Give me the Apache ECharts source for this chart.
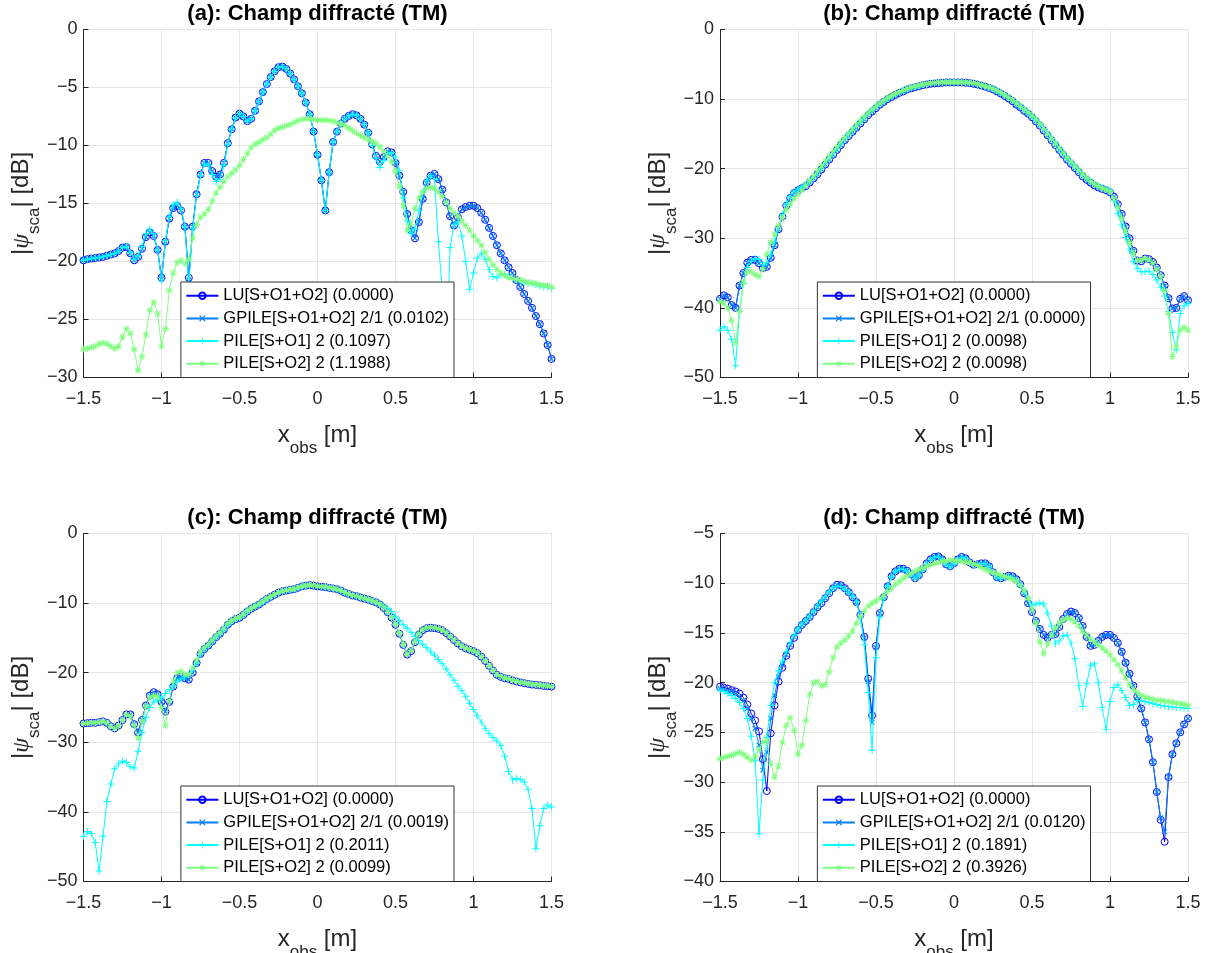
<!DOCTYPE html>
<html>
<head>
<meta charset="utf-8">
<script src="https://cdn.jsdelivr.net/npm/echarts@6/dist/echarts.min.js"></script>
<style>html,body{margin:0;padding:0;background:#fff}#c{width:1213px;height:953px}</style>
</head>
<body>
<div id="c"></div>
<script>
// ---------------- DATA ----------------
const xs = [-1.5,-1.475,-1.45,-1.425,-1.4,-1.375,-1.35,-1.325,-1.3,-1.275,
-1.25,-1.225,-1.2,-1.175,-1.15,-1.125,-1.1,-1.075,-1.05,-1.025,
-1,-0.975,-0.95,-0.925,-0.9,-0.875,-0.85,-0.825,-0.8,-0.775,
-0.75,-0.725,-0.7,-0.675,-0.65,-0.625,-0.6,-0.575,-0.55,-0.525,
-0.5,-0.475,-0.45,-0.425,-0.4,-0.375,-0.35,-0.325,-0.3,-0.275,
-0.25,-0.225,-0.2,-0.175,-0.15,-0.125,-0.1,-0.075,-0.05,-0.025,
0,0.025,0.05,0.075,0.1,0.125,0.15,0.175,0.2,0.225,
0.25,0.275,0.3,0.325,0.35,0.375,0.4,0.425,0.45,0.475,
0.5,0.525,0.55,0.575,0.6,0.625,0.65,0.675,0.7,0.725,
0.75,0.775,0.8,0.825,0.85,0.875,0.9,0.925,0.95,0.975,
1,1.025,1.05,1.075,1.1,1.125,1.15,1.175,1.2,1.225,
1.25,1.275,1.3,1.325,1.35,1.375,1.4,1.425,1.45,1.475,
1.5];

const xTicks = [-1.5, 1.5, 0.5];          // min, max, step
const yTicksA = [-30, 0, 5];
const yTicksB = [-50, 0, 10];
const yTicksC = [-50, 0, 10];
const yTicksD = [-40, -5, 5];

const titles = ['(a): Champ diffracté (TM)','(b): Champ diffracté (TM)','(c): Champ diffracté (TM)','(d): Champ diffracté (TM)'];

const namesA = ['LU[S+O1+O2] (0.0000)','GPILE[S+O1+O2] 2/1 (0.0102)','PILE[S+O1] 2 (0.1097)','PILE[S+O2] 2 (1.1988)'];
const namesB = ['LU[S+O1+O2] (0.0000)','GPILE[S+O1+O2] 2/1 (0.0000)','PILE[S+O1] 2 (0.0098)','PILE[S+O2] 2 (0.0098)'];
const namesC = ['LU[S+O1+O2] (0.0000)','GPILE[S+O1+O2] 2/1 (0.0019)','PILE[S+O1] 2 (0.2011)','PILE[S+O2] 2 (0.0099)'];
const namesD = ['LU[S+O1+O2] (0.0000)','GPILE[S+O1+O2] 2/1 (0.0120)','PILE[S+O1] 2 (0.1891)','PILE[S+O2] 2 (0.3926)'];

// (a)
const luA = [-19.9,-19.8,-19.75,-19.7,-19.65,-19.6,-19.5,-19.4,-19.3,-19.1,
-18.8,-18.75,-19.3,-19.9,-19.6,-18.9,-17.9,-17.5,-17.8,-19.0,
-21.4,-18.3,-16.3,-15.4,-15.2,-15.6,-17.0,-21.4,-17.0,-14.2,
-12.5,-11.5,-11.5,-12.2,-12.7,-12.5,-11.5,-9.8,-8.6,-7.6,
-7.25,-7.5,-7.9,-7.7,-7.0,-6.2,-5.4,-4.7,-4.1,-3.6,
-3.25,-3.2,-3.4,-3.8,-4.3,-4.9,-5.5,-6.3,-7.3,-8.8,
-10.8,-13.0,-15.6,-12.3,-9.7,-8.8,-8.1,-7.7,-7.45,-7.3,
-7.4,-7.7,-8.2,-8.9,-9.9,-10.9,-11.4,-11.0,-10.5,-10.6,
-11.5,-12.6,-14.0,-15.9,-17.3,-18.0,-16.6,-14.6,-13.2,-12.6,
-12.45,-12.9,-13.8,-14.9,-16.1,-16.9,-16.2,-15.5,-15.3,-15.2,
-15.2,-15.4,-15.8,-16.4,-17.1,-17.8,-18.6,-19.3,-19.9,-20.5,
-21.0,-21.6,-22.2,-22.8,-23.4,-24.0,-24.7,-25.4,-26.2,-27.2,
-28.4];
const gpileA = [-19.9,-19.8,-19.75,-19.7,-19.65,-19.6,-19.5,-19.4,-19.3,-19.1,
-18.8,-18.75,-19.3,-19.9,-19.6,-18.9,-17.9,-17.5,-17.8,-19.0,
-21.5,-18.3,-16.3,-15.4,-15.2,-15.6,-17.0,-21.6,-17.0,-14.2,
-12.5,-11.5,-11.5,-12.2,-12.7,-12.5,-11.5,-9.8,-8.6,-7.6,
-7.25,-7.5,-7.9,-7.7,-7.0,-6.2,-5.4,-4.7,-4.1,-3.6,
-3.25,-3.2,-3.4,-3.8,-4.3,-4.9,-5.5,-6.3,-7.3,-8.8,
-10.8,-13.0,-15.6,-12.3,-9.7,-8.8,-8.1,-7.7,-7.45,-7.3,
-7.4,-7.7,-8.2,-8.9,-9.9,-10.9,-11.4,-11.0,-10.5,-10.6,
-11.5,-12.6,-14.0,-15.9,-17.3,-18.0,-16.6,-14.6,-13.2,-12.6,
-12.45,-12.9,-13.8,-14.9,-16.1,-16.9,-16.2,-15.5,-15.3,-15.2,
-15.2,-15.4,-15.8,-16.4,-17.1,-17.8,-18.6,-19.3,-19.9,-20.5,
-21.0,-21.6,-22.2,-22.8,-23.4,-24.0,-24.7,-25.4,-26.2,-27.2,
-28.4];
const pile1A = [-19.9,-19.8,-19.75,-19.7,-19.65,-19.6,-19.5,-19.4,-19.3,-19.1,
-18.8,-18.7,-19.2,-19.8,-19.5,-18.7,-17.6,-17.2,-17.6,-19.0,
-21.6,-18.2,-16.1,-15.1,-14.9,-15.4,-17.0,-22.0,-17.2,-14.3,
-12.6,-11.6,-11.7,-12.5,-13.1,-12.9,-11.7,-9.9,-8.6,-7.6,
-7.25,-7.5,-7.9,-7.7,-7.0,-6.2,-5.4,-4.7,-4.1,-3.6,
-3.25,-3.2,-3.4,-3.8,-4.3,-4.9,-5.5,-6.3,-7.3,-8.8,
-10.8,-13.0,-15.6,-12.3,-9.7,-8.8,-8.1,-7.7,-7.45,-7.3,
-7.4,-7.7,-8.2,-8.9,-10.0,-11.1,-11.9,-11.3,-10.7,-10.6,
-11.0,-12.2,-14.5,-16.5,-17.6,-17.2,-15.6,-14.0,-13.0,-12.6,
-12.9,-18.3,-22.5,-28.0,-18.8,-16.8,-16.6,-17.8,-20.0,-22.4,
-21.0,-19.7,-19.3,-19.8,-20.7,-21.3,-21.4,-21.1,-21.1,-21.3,
-21.5,-21.6,-21.7,-21.8,-21.9,-21.9,-22.0,-22.1,-22.2,-22.2,
-22.3];
const pile2A = [-27.55,-27.5,-27.4,-27.3,-27.1,-27.0,-27.1,-27.3,-27.5,-27.3,
-26.5,-25.8,-26.2,-27.6,-29.4,-28.2,-26.3,-24.2,-23.5,-24.5,
-27.3,-25.8,-22.5,-21.0,-20.1,-19.9,-20.2,-19.8,-18.0,-16.8,
-16.2,-15.9,-15.5,-14.8,-14.1,-13.6,-13.1,-12.7,-12.4,-12.1,
-11.7,-11.2,-10.7,-10.2,-9.9,-9.7,-9.5,-9.3,-9.0,-8.7,
-8.5,-8.4,-8.3,-8.2,-8.0,-7.85,-7.75,-7.7,-7.7,-7.75,
-7.8,-7.8,-7.8,-7.85,-7.9,-8.0,-8.15,-8.3,-8.5,-8.7,
-8.95,-9.15,-9.3,-9.5,-9.65,-9.8,-10.1,-10.5,-10.9,-11.4,
-12.2,-13.5,-15.2,-17.3,-16.8,-15.4,-14.5,-14.0,-13.7,-13.6,
-13.7,-14.0,-14.4,-14.9,-15.4,-15.8,-16.1,-16.5,-16.9,-17.3,
-17.8,-18.2,-18.6,-19.2,-19.8,-20.3,-20.7,-21.0,-21.2,-21.35,
-21.45,-21.55,-21.6,-21.7,-21.8,-21.85,-21.9,-22.0,-22.05,-22.1,
-22.2];

// (b)
const luB = [-38.7,-38.2,-38.5,-39.6,-40.0,-36.8,-35.0,-33.5,-33.1,-33.1,
-33.6,-34.3,-34.1,-32.8,-31.0,-28.7,-26.9,-25.3,-24.2,-23.5,
-23.1,-22.8,-22.5,-22.0,-21.4,-20.8,-20.1,-19.4,-18.7,-18.0,
-17.3,-16.6,-15.9,-15.3,-14.7,-14.1,-13.5,-12.9,-12.3,-11.8,
-11.3,-10.8,-10.4,-10.0,-9.7,-9.4,-9.1,-8.9,-8.6,-8.45,
-8.3,-8.15,-8.0,-7.9,-7.8,-7.75,-7.7,-7.65,-7.6,-7.6,
-7.6,-7.6,-7.6,-7.65,-7.7,-7.8,-7.9,-8.05,-8.2,-8.4,
-8.6,-8.9,-9.2,-9.55,-9.9,-10.3,-10.8,-11.2,-11.7,-12.1,
-12.6,-13.2,-13.8,-14.5,-15.2,-15.9,-16.6,-17.3,-18.0,-18.7,
-19.3,-19.9,-20.5,-21.1,-21.6,-22.0,-22.4,-22.7,-22.9,-23.1,
-23.4,-24.0,-25.1,-26.5,-28.3,-30.0,-31.8,-33.2,-33.3,-32.9,
-33.0,-33.4,-34.2,-35.3,-36.8,-38.6,-40.1,-40.0,-38.7,-38.3,
-38.9];
const gpileB = [-38.7,-38.2,-38.5,-39.6,-40.0,-36.8,-35.0,-33.5,-33.1,-33.1,
-33.6,-34.3,-34.1,-32.8,-31.0,-28.7,-26.9,-25.3,-24.2,-23.5,
-23.1,-22.8,-22.5,-22.0,-21.4,-20.8,-20.1,-19.4,-18.7,-18.0,
-17.3,-16.6,-15.9,-15.3,-14.7,-14.1,-13.5,-12.9,-12.3,-11.8,
-11.3,-10.8,-10.4,-10.0,-9.7,-9.4,-9.1,-8.9,-8.6,-8.45,
-8.3,-8.15,-8.0,-7.9,-7.8,-7.75,-7.7,-7.65,-7.6,-7.6,
-7.6,-7.6,-7.6,-7.65,-7.7,-7.8,-7.9,-8.05,-8.2,-8.4,
-8.6,-8.9,-9.2,-9.55,-9.9,-10.3,-10.8,-11.2,-11.7,-12.1,
-12.6,-13.2,-13.8,-14.5,-15.2,-15.9,-16.6,-17.3,-18.0,-18.7,
-19.3,-19.9,-20.5,-21.1,-21.6,-22.0,-22.4,-22.7,-22.9,-23.1,
-23.4,-24.0,-25.1,-26.5,-28.3,-30.0,-31.8,-33.2,-33.3,-32.9,
-33.0,-33.4,-34.2,-35.3,-36.8,-38.6,-40.1,-40.0,-38.7,-38.3,
-38.9];
const pile1B = [-43.2,-42.7,-43.2,-44.5,-48.3,-40.5,-36.5,-34.2,-33.3,-32.9,
-33.0,-33.8,-33.5,-32.3,-30.5,-28.5,-26.6,-25.0,-24.0,-23.3,
-22.9,-22.6,-22.3,-21.8,-21.2,-20.6,-19.9,-19.2,-18.5,-17.8,
-17.1,-16.4,-15.7,-15.1,-14.5,-13.9,-13.3,-12.7,-12.1,-11.6,
-11.1,-10.7,-10.3,-9.9,-9.6,-9.3,-9.0,-8.8,-8.55,-8.4,
-8.25,-8.1,-7.95,-7.85,-7.75,-7.7,-7.65,-7.6,-7.6,-7.6,
-7.6,-7.6,-7.6,-7.65,-7.7,-7.75,-7.85,-8.0,-8.15,-8.35,
-8.55,-8.8,-9.1,-9.45,-9.8,-10.2,-10.6,-11.1,-11.5,-12.0,
-12.5,-13.0,-13.6,-14.3,-15.0,-15.7,-16.4,-17.1,-17.8,-18.5,
-19.1,-19.7,-20.3,-20.9,-21.4,-21.8,-22.2,-22.5,-22.7,-22.9,
-23.1,-24.6,-26.4,-28.1,-29.9,-31.7,-33.3,-34.3,-34.8,-34.8,
-34.7,-35.2,-36.0,-37.0,-38.3,-40.5,-43.5,-46.0,-40.8,-39.7,
-39.4];
const pile2B = [-39.1,-39.3,-40.0,-41.8,-45.0,-40.5,-36.3,-34.8,-34.8,-35.2,
-35.5,-34.5,-32.3,-30.6,-29.4,-28.2,-27.0,-25.9,-25.1,-24.3,
-23.7,-23.1,-22.4,-21.7,-21.0,-20.3,-19.6,-18.9,-18.2,-17.5,
-16.8,-16.1,-15.5,-14.9,-14.3,-13.7,-13.1,-12.5,-12.0,-11.5,
-11.0,-10.6,-10.2,-9.8,-9.5,-9.2,-8.95,-8.7,-8.5,-8.3,
-8.15,-8.0,-7.9,-7.8,-7.7,-7.65,-7.6,-7.55,-7.55,-7.55,
-7.55,-7.55,-7.55,-7.6,-7.65,-7.7,-7.8,-7.95,-8.1,-8.3,
-8.5,-8.75,-9.05,-9.4,-9.75,-10.15,-10.55,-11.0,-11.45,-11.9,
-12.4,-12.9,-13.5,-14.2,-14.9,-15.6,-16.3,-17.0,-17.7,-18.4,
-19.0,-19.6,-20.2,-20.8,-21.3,-21.8,-22.2,-22.5,-22.8,-23.0,
-23.3,-24.3,-25.6,-27.1,-28.9,-30.6,-32.2,-33.2,-33.1,-32.9,
-33.1,-33.6,-34.5,-35.5,-37.5,-40.8,-47.0,-45.5,-43.2,-42.8,
-43.2];

// (c)
const luC = [-27.3,-27.25,-27.2,-27.2,-27.1,-27.0,-27.2,-27.7,-28.0,-27.6,
-26.8,-26.0,-26.0,-27.4,-28.6,-26.8,-24.7,-23.3,-22.8,-23.1,
-24.2,-25.6,-24.2,-22.0,-20.8,-20.5,-20.8,-21.0,-20.0,-18.6,
-17.3,-16.6,-16.1,-15.5,-14.9,-14.4,-13.8,-13.1,-12.6,-12.3,
-12.1,-11.7,-11.2,-10.8,-10.5,-10.2,-9.8,-9.4,-9.1,-8.8,
-8.5,-8.3,-8.2,-8.1,-8.0,-7.8,-7.6,-7.5,-7.4,-7.5,
-7.6,-7.65,-7.7,-7.8,-7.9,-8.0,-8.2,-8.5,-8.7,-8.9,
-9.0,-9.2,-9.35,-9.5,-9.7,-9.9,-10.2,-10.7,-11.3,-12.1,
-13.1,-14.4,-16.0,-17.4,-16.9,-15.6,-14.5,-13.9,-13.6,-13.55,
-13.6,-13.7,-13.9,-14.3,-14.8,-15.3,-15.8,-16.2,-16.5,-16.7,
-16.9,-17.2,-17.7,-18.3,-19.0,-19.7,-20.3,-20.6,-20.8,-20.9,
-21.1,-21.25,-21.4,-21.5,-21.6,-21.7,-21.75,-21.8,-21.9,-21.95,
-22.0];
const gpileC = [-27.3,-27.25,-27.2,-27.2,-27.1,-27.0,-27.2,-27.7,-28.0,-27.6,
-26.8,-26.0,-26.0,-27.4,-28.6,-26.8,-24.7,-23.3,-22.8,-23.1,
-24.2,-25.6,-24.2,-22.0,-20.8,-20.5,-20.8,-21.0,-20.0,-18.6,
-17.3,-16.6,-16.1,-15.5,-14.9,-14.4,-13.8,-13.1,-12.6,-12.3,
-12.1,-11.7,-11.2,-10.8,-10.5,-10.2,-9.8,-9.4,-9.1,-8.8,
-8.5,-8.3,-8.2,-8.1,-8.0,-7.8,-7.6,-7.5,-7.4,-7.5,
-7.6,-7.65,-7.7,-7.8,-7.9,-8.0,-8.2,-8.5,-8.7,-8.9,
-9.0,-9.2,-9.35,-9.5,-9.7,-9.9,-10.2,-10.7,-11.3,-12.1,
-13.1,-14.4,-16.0,-17.4,-16.9,-15.6,-14.5,-13.9,-13.6,-13.55,
-13.6,-13.7,-13.9,-14.3,-14.8,-15.3,-15.8,-16.2,-16.5,-16.7,
-16.9,-17.2,-17.7,-18.3,-19.0,-19.7,-20.3,-20.6,-20.8,-20.9,
-21.1,-21.25,-21.4,-21.5,-21.6,-21.7,-21.75,-21.8,-21.9,-21.95,
-22.0];
const pile1C = [-43.5,-42.8,-43.1,-44.4,-48.5,-43.5,-38.5,-36.0,-33.8,-33.1,
-32.7,-32.9,-33.5,-33.7,-31.3,-28.6,-26.4,-25.0,-24.2,-23.9,
-23.6,-23.0,-22.4,-21.9,-21.3,-20.9,-20.6,-20.3,-19.6,-18.6,
-17.3,-16.6,-16.1,-15.5,-14.9,-14.4,-13.8,-13.1,-12.6,-12.3,
-12.1,-11.7,-11.2,-10.8,-10.5,-10.2,-9.8,-9.4,-9.1,-8.8,
-8.5,-8.3,-8.2,-8.1,-8.0,-7.8,-7.6,-7.5,-7.4,-7.5,
-7.6,-7.65,-7.7,-7.8,-7.9,-8.0,-8.2,-8.5,-8.7,-8.9,
-9.0,-9.2,-9.35,-9.5,-9.7,-9.9,-10.2,-10.45,-10.7,-11.2,
-11.9,-12.5,-13.1,-13.6,-14.2,-14.8,-15.4,-15.9,-16.4,-17.0,
-17.5,-18.1,-18.7,-19.5,-20.3,-21.1,-21.9,-22.6,-23.4,-24.4,
-25.3,-26.2,-27.1,-28.0,-28.7,-29.3,-29.8,-30.5,-32.0,-34.2,
-35.4,-35.2,-35.3,-35.7,-36.8,-39.5,-45.3,-42.0,-39.5,-39.0,
-39.3];
const pile2C = [-27.3,-27.25,-27.2,-27.2,-27.1,-27.0,-27.2,-27.7,-28.0,-27.6,
-26.8,-26.0,-26.3,-27.6,-29.4,-27.0,-24.9,-23.5,-23.3,-23.4,
-25.0,-27.6,-24.0,-21.2,-20.0,-19.8,-20.2,-20.3,-19.3,-18.2,
-17.0,-16.4,-15.9,-15.3,-14.7,-14.2,-13.6,-12.9,-12.5,-12.2,
-12.0,-11.6,-11.1,-10.7,-10.4,-10.1,-9.7,-9.35,-9.05,-8.75,
-8.45,-8.25,-8.15,-8.05,-7.95,-7.75,-7.55,-7.45,-7.4,-7.45,
-7.55,-7.6,-7.65,-7.75,-7.85,-7.95,-8.15,-8.45,-8.65,-8.85,
-8.95,-9.15,-9.3,-9.45,-9.65,-9.85,-10.15,-10.65,-11.25,-12.0,
-13.0,-14.3,-15.9,-17.3,-16.8,-15.5,-14.4,-13.8,-13.55,-13.5,
-13.55,-13.65,-13.85,-14.25,-14.75,-15.25,-15.75,-16.15,-16.45,-16.65,
-16.85,-17.15,-17.65,-18.25,-18.95,-19.65,-20.25,-20.55,-20.75,-20.85,
-21.05,-21.2,-21.35,-21.45,-21.55,-21.65,-21.7,-21.75,-21.85,-21.9,
-21.95];

// (d)
const luD = [-20.4,-20.5,-20.6,-20.75,-20.9,-21.1,-21.5,-22.2,-23.1,-23.8,
-24.9,-27.7,-30.9,-25.1,-22.3,-19.9,-18.5,-17.3,-16.3,-15.5,
-14.7,-14.2,-13.8,-13.4,-12.9,-12.4,-12.0,-11.5,-11.0,-10.5,
-10.15,-10.2,-10.5,-10.9,-11.4,-11.9,-13.2,-15.4,-19.6,-23.3,
-16.3,-13.0,-11.4,-10.3,-9.3,-8.8,-8.55,-8.55,-8.75,-9.1,
-9.5,-9.2,-8.6,-8.0,-7.6,-7.35,-7.3,-7.6,-8.1,-8.3,
-8.0,-7.6,-7.35,-7.5,-7.9,-8.15,-8.1,-8.0,-8.0,-8.3,
-8.9,-9.4,-9.5,-9.35,-9.25,-9.3,-9.6,-10.1,-11.0,-12.0,
-12.9,-13.8,-14.6,-15.2,-15.5,-15.2,-15.1,-14.4,-13.6,-13.1,
-12.85,-13.0,-13.5,-14.3,-15.4,-16.3,-16.2,-15.8,-15.4,-15.2,
-15.2,-15.5,-16.0,-16.9,-18.0,-19.1,-20.3,-21.4,-22.6,-24.0,
-25.7,-28.0,-31.0,-33.8,-36.0,-29.5,-27.2,-26.1,-25.0,-24.2,
-23.6];
const gpileD = [-20.6,-20.7,-20.8,-20.95,-21.1,-21.4,-21.8,-22.6,-23.6,-24.6,
-26.3,-28.8,-27.0,-23.6,-21.3,-19.4,-18.2,-17.2,-16.2,-15.4,
-14.7,-14.2,-13.8,-13.4,-12.9,-12.4,-12.0,-11.5,-11.0,-10.5,
-10.15,-10.2,-10.5,-10.9,-11.4,-11.9,-13.2,-15.5,-19.9,-24.0,
-16.5,-13.0,-11.4,-10.3,-9.3,-8.8,-8.55,-8.55,-8.75,-9.1,
-9.5,-9.2,-8.6,-8.0,-7.6,-7.35,-7.3,-7.6,-8.1,-8.3,
-8.0,-7.6,-7.35,-7.5,-7.9,-8.15,-8.1,-8.0,-8.0,-8.3,
-8.9,-9.4,-9.5,-9.35,-9.25,-9.3,-9.6,-10.1,-11.0,-12.0,
-12.9,-13.8,-14.6,-15.2,-15.5,-15.2,-15.1,-14.4,-13.6,-13.1,
-12.85,-13.0,-13.5,-14.3,-15.4,-16.3,-16.2,-15.8,-15.4,-15.2,
-15.2,-15.5,-16.0,-16.9,-18.0,-19.1,-20.3,-21.4,-22.6,-24.0,
-25.7,-28.0,-31.0,-33.6,-35.0,-29.5,-27.2,-26.1,-25.0,-24.2,
-23.6];
const pile1D = [-20.75,-20.9,-21.1,-21.3,-21.6,-22.0,-22.6,-23.6,-25.4,-27.8,
-35.2,-29.8,-25.5,-22.3,-20.0,-18.8,-17.8,-16.9,-16.0,-15.2,
-14.6,-14.1,-13.7,-13.3,-12.8,-12.3,-11.8,-11.35,-10.85,-10.45,
-10.3,-10.35,-10.6,-10.9,-11.3,-11.9,-13.5,-16.2,-21.0,-26.8,
-17.5,-13.4,-11.5,-10.3,-9.35,-8.85,-8.6,-8.6,-8.8,-9.15,
-9.5,-9.25,-8.7,-8.1,-7.65,-7.4,-7.35,-7.65,-8.15,-8.35,
-8.05,-7.65,-7.4,-7.55,-7.95,-8.2,-8.15,-8.05,-8.05,-8.35,
-8.95,-9.45,-9.55,-9.4,-9.3,-9.4,-9.7,-10.2,-10.9,-11.5,
-12.2,-12.1,-12.0,-12.1,-13.0,-14.3,-16.1,-15.8,-15.3,-15.2,
-16.0,-17.6,-20.3,-22.4,-20.1,-18.3,-18.1,-20.0,-22.5,-24.7,
-21.9,-20.5,-20.2,-20.8,-21.5,-22.3,-22.2,-21.8,-21.8,-21.9,
-22.0,-22.1,-22.2,-22.3,-22.35,-22.4,-22.45,-22.5,-22.5,-22.55,
-22.6];
const pile2D = [-27.65,-27.5,-27.4,-27.3,-27.15,-27.0,-27.2,-27.5,-27.8,-27.4,
-26.7,-26.0,-25.8,-28.1,-29.5,-28.4,-26.0,-24.3,-23.5,-24.8,
-27.2,-26.3,-23.8,-21.2,-20.0,-19.9,-20.3,-20.2,-18.9,-17.5,
-16.4,-16.0,-15.7,-15.3,-14.8,-14.0,-13.3,-12.8,-12.3,-12.0,
-11.8,-11.5,-11.2,-10.85,-10.5,-10.1,-9.8,-9.5,-9.25,-9.0,
-8.8,-8.6,-8.45,-8.3,-8.15,-8.0,-7.9,-7.8,-7.75,-7.7,
-7.7,-7.75,-7.8,-7.85,-7.9,-8.05,-8.2,-8.4,-8.6,-8.8,
-8.9,-9.05,-9.2,-9.3,-9.45,-9.6,-9.8,-10.2,-10.7,-11.5,
-12.6,-14.0,-15.9,-17.1,-16.1,-15.2,-14.5,-14.0,-13.7,-13.5,
-13.6,-13.9,-14.3,-14.8,-15.2,-15.6,-15.9,-16.2,-16.5,-16.8,
-17.2,-17.7,-18.2,-18.8,-19.5,-20.2,-20.7,-21.0,-21.3,-21.45,
-21.55,-21.65,-21.75,-21.8,-21.85,-21.9,-22.0,-22.05,-22.1,-22.2,
-22.3];

// ---------------- STYLE / LAYOUT ----------------
const FF = '"Liberation Sans", Arial, Helvetica, sans-serif';
const AXC = '#262626';
const GRIDC = '#e6e6e6';
const COLORS = ['#0000ff', '#0080ff', '#00ffff', '#80ff80'];
const SYMS = [
  'circle',
  'path://M0,1.4L1.4,0L10,8.6L8.6,10Z M8.6,0L10,1.4L1.4,10L0,8.6Z',
  'path://M4.3,0L5.7,0L5.7,4.3L10,4.3L10,5.7L5.7,5.7L5.7,10L4.3,10L4.3,5.7L0,5.7L0,4.3L4.3,4.3Z',
  'path://M4.4,0L5.6,0L5.6,4.4L10,4.4L10,5.6L5.6,5.6L5.6,10L4.4,10L4.4,5.6L0,5.6L0,4.4L4.4,4.4Z M2,1L9,8L8,9L1,2Z M8,1L9,2L2,9L1,8Z'
];
const SYMSIZE = [7, 5.5, 7, 7];
const BOX = [[83.5, 29.5], [720, 29.5], [83.5, 533.5], [720, 533.5]];
const BW = 468, BH = 348;

const panels = [
  {y: yTicksA, names: namesA, data: [luA, gpileA, pile1A, pile2A]},
  {y: yTicksB, names: namesB, data: [luB, gpileB, pile1B, pile2B]},
  {y: yTicksC, names: namesC, data: [luC, gpileC, pile1C, pile2C]},
  {y: yTicksD, names: namesD, data: [luD, gpileD, pile1D, pile2D]}
];
panels.forEach((p, i) => p.data.forEach((a, k) => {
  if (a.length !== xs.length) throw new Error('length mismatch panel ' + i + ' series ' + k + ': ' + a.length);
}));

const minus = v => String(v).replace('-', '\u2212');
const labelStyle = {color: AXC, fontFamily: FF, fontSize: 18};
const nameStyle = {
  fontFamily: FF, fontSize: 24, color: AXC, lineHeight: 28,
  rich: {
    psi: {fontFamily: '"Liberation Serif", serif', fontStyle: 'italic', fontSize: 24, color: AXC},
    sub: {fontFamily: FF, fontSize: 17, color: AXC, height: 2, verticalAlign: 'bottom'}
  }
};

const grids = [], xAxes = [], yAxes = [], series = [], legends = [], graphics = [];
panels.forEach((p, i) => {
  grids.push({left: BOX[i][0], top: BOX[i][1], width: BW, height: BH, containLabel: false, outerBoundsMode: 'none'});
  xAxes.push({
    type: 'value', gridIndex: i, min: xTicks[0], max: xTicks[1], interval: xTicks[2],
    name: 'x{sub|obs} [m]', nameLocation: 'middle', nameGap: 44, nameTextStyle: nameStyle,
    axisLine: {show: true, onZero: false, lineStyle: {color: AXC, width: 1}},
    axisTick: {show: true, inside: true, length: 5, lineStyle: {color: AXC}},
    axisLabel: Object.assign({margin: 13, formatter: minus}, labelStyle),
    splitLine: {show: true, lineStyle: {color: GRIDC, width: 1}}
  });
  yAxes.push({
    type: 'value', gridIndex: i, min: p.y[0], max: p.y[1], interval: p.y[2],
    name: '|{psi|ψ}{sub|sca}| [dB]', nameLocation: 'middle', nameRotate: 90, nameGap: 41, nameTextStyle: nameStyle,
    axisLine: {show: true, onZero: false, lineStyle: {color: AXC, width: 1}},
    axisTick: {show: true, inside: true, length: 5, lineStyle: {color: AXC}},
    axisLabel: Object.assign({margin: 6, formatter: minus}, labelStyle),
    splitLine: {show: true, lineStyle: {color: GRIDC, width: 1}}
  });
  p.data.forEach((arr, k) => {
    series.push({
      type: 'line', name: p.names[k], xAxisIndex: i, yAxisIndex: i,
      data: xs.map((x, j) => [x, arr[j]]),
      symbol: SYMS[k], symbolSize: SYMSIZE[k], showSymbol: true, showAllSymbol: true,
      lineStyle: {color: COLORS[k], width: 1},
      itemStyle: k === 0 ? {color: 'rgba(255,255,255,0)', borderColor: COLORS[k], borderWidth: 1}
                         : {color: COLORS[k], borderWidth: 0},
      emphasis: {disabled: true}, silent: true, animation: false, clip: true, z: 2 + k * 0.1
    });
  });
  legends.push({
    data: p.names, orient: 'vertical', align: 'left',
    right: 1213 - (BOX[i][0] + 370.5), bottom: 953 - (BOX[i][1] + BH),
    itemWidth: 32, itemHeight: 8, itemGap: 5.7,
    padding: [5.2, 5, 5.2, 4.5],
    backgroundColor: '#ffffff', borderColor: '#333333', borderWidth: 1, borderRadius: 0,
    selectedMode: false, z: 10,
    textStyle: {fontFamily: FF, fontSize: 16.5, color: '#000', lineHeight: 16}
  });
  graphics.push({
    type: 'text', x: BOX[i][0] + BW / 2, y: BOX[i][1] - 15.5, z: 20,
    style: {text: titles[i], font: 'bold 22px ' + FF, fill: '#000',
            textAlign: 'center', textVerticalAlign: 'middle', align: 'center', verticalAlign: 'middle'}
  });
});

const chart = echarts.init(document.getElementById('c'), null, {renderer: 'canvas'});
chart.setOption({
  backgroundColor: '#ffffff',
  animation: false,
  grid: grids, xAxis: xAxes, yAxis: yAxes, series: series, legend: legends, graphic: graphics
});
</script>
</body>
</html>
